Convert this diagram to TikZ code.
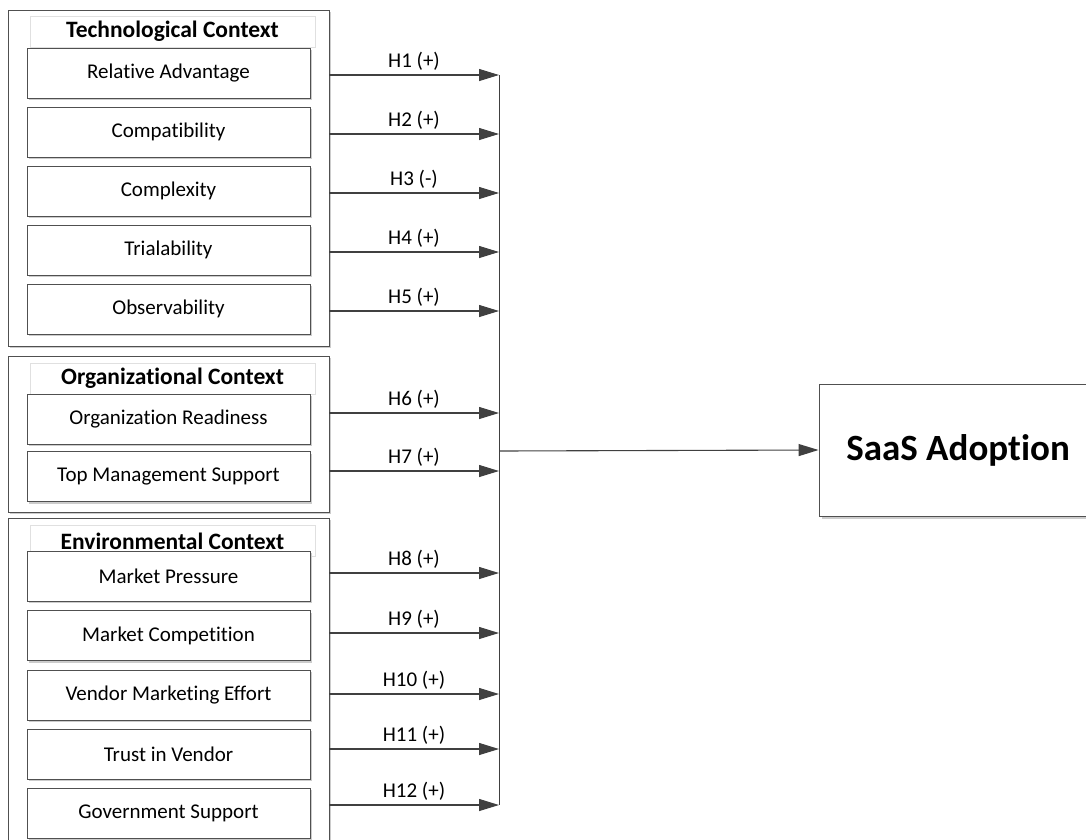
\documentclass[tikz,border=0pt]{standalone}
\usepackage{fontspec}
\setmainfont[Ligatures={NoCommon}]{Carlito}
\usetikzlibrary{arrows.meta,shadows}
\definecolor{edge}{HTML}{505050}
\definecolor{arr}{HTML}{404040}
\tikzset{
  grp/.style={draw=edge, line width=0.9pt, fill=white, inner sep=0pt,
    drop shadow={shadow xshift=2pt, shadow yshift=-2pt, fill=black!20, opacity=1}},
  itembox/.style={draw=edge, line width=0.9pt, fill=white, minimum width=283pt, minimum height=50pt,
    inner sep=0pt, text=black, font=\fontsize{21}{25}\selectfont,
    drop shadow={shadow xshift=2pt, shadow yshift=-2pt, fill=black!20, opacity=1}},
  titlebox/.style={draw=black!12, line width=0.6pt, fill=white, minimum width=285pt, minimum height=31pt,
    inner sep=0pt, text=black, font=\fontsize{23.5}{27}\selectfont\bfseries},
  hyp/.style={draw=black!62, line width=1.1pt, -{Triangle[length=20pt,width=12pt]}, arr},
  hlab/.style={font=\fontsize{21}{25}\selectfont, text=black, inner sep=0pt, anchor=base, yshift=8pt},
  bus/.style={draw=arr, line width=0.9pt},
}
\begin{document}
\begin{tikzpicture}[x=1pt,y=-1pt]
\useasboundingbox (0,0) rectangle (1086,839);
\clip (0,0) rectangle (1086,839);
% group boxes
\node[grp, minimum width=321pt, minimum height=336pt] (tech) at (168.5,178) {};
\node[grp, minimum width=321pt, minimum height=156pt] (org) at (168.5,434) {};
\node[grp, minimum width=321pt, minimum height=340pt] (env) at (168.5,688) {};
% titles
\node[titlebox] (ttech) at (172.5,31.5) {Technological Context};
\node[titlebox] (torg) at (172.5,378.5) {Organizational Context};
\node[titlebox] (tenv) at (172.5,541) {Environmental Context};
% items
\node[itembox] (ra) at (168.5,73) {Relative Advantage};
\node[itembox] (cp) at (168.5,132) {Compatibility};
\node[itembox] (cx) at (168.5,191) {Complexity};
\node[itembox] (tr) at (168.5,250) {Trialability};
\node[itembox] (ob) at (168.5,309) {Observability};
\node[itembox] (or) at (168.5,419) {Organization Readiness};
\node[itembox] (tm) at (168.5,476.5) {Top Management Support};
\node[itembox] (mp) at (168.5,576) {Market Pressure};
\node[itembox] (mc) at (168.5,635.5) {Market Competition};
\node[itembox] (vm) at (168.5,695) {Vendor Marketing Effort};
\node[itembox] (tv) at (168.5,754) {Trust in Vendor};
\node[itembox] (gs) at (168.5,813) {Government Support};
% target
\node[draw=edge, line width=0.9pt, fill=white, minimum width=278pt, minimum height=132pt, inner sep=0pt,
  text=black, font=\fontsize{37}{42}\selectfont\bfseries,
  drop shadow={shadow xshift=3pt, shadow yshift=-3pt, fill=black!20, opacity=1}] (saas) at (958,450) {SaaS Adoption};
% junction coordinates
\foreach \n/\y in {1/75,2/134,3/193,4/252,5/311,6/413,7/471,8/573,9/633,10/694,11/749,12/805}{
  \coordinate (s\n) at (329,\y);
  \coordinate (j\n) at (499,\y);
}
\coordinate (jm) at (499,451);
% bus
\draw[bus] (j1) -- (j12);
% hypothesis arrows
\foreach \n/\lab in {1/{H1 (+)},2/{H2 (+)},3/{H3 (-)},4/{H4 (+)},5/{H5 (+)},6/{H6 (+)},7/{H7 (+)},8/{H8 (+)},9/{H9 (+)},10/{H10 (+)},11/{H11 (+)},12/{H12 (+)}}{
  \draw[hyp] (s\n) -- (j\n) node[hlab, pos=0.5] {\lab};
}
\draw[hyp] (jm) -- (saas.west);
\end{tikzpicture}
\end{document}
